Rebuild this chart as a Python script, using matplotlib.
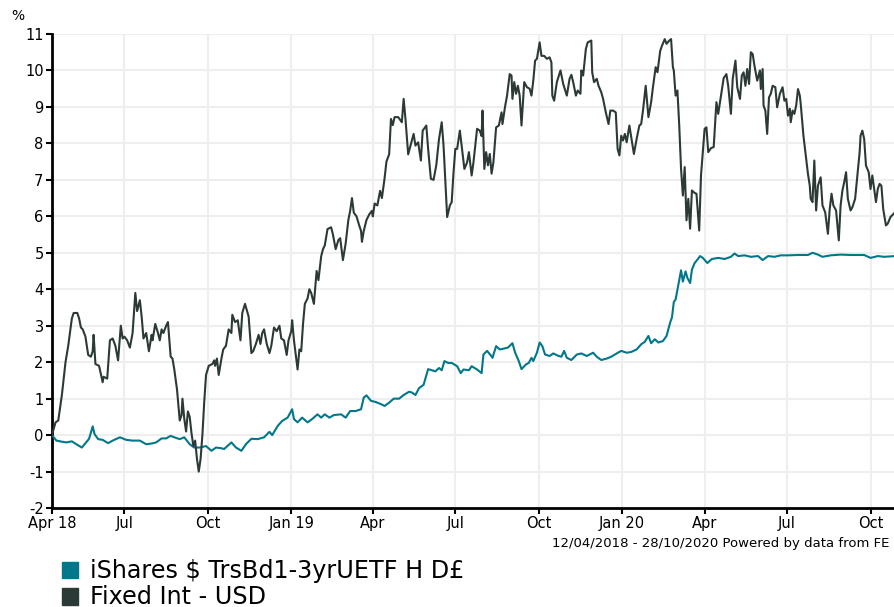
import matplotlib
matplotlib.use("Agg")
import matplotlib.pyplot as plt
import pandas as pd

START = pd.Timestamp("2018-04-12")
END = pd.Timestamp("2020-10-28")

# Fixed Int - USD (days since 12/04/2018, cumulative % return)
fixed_days = [0, 4, 7, 11, 15, 18, 22, 24, 28, 30, 32, 34, 37, 40, 43, 45, 46, 48, 52, 56,
              57, 61, 64, 67, 70, 73, 76, 78, 80, 83, 86, 89, 92, 94, 97, 99, 101, 104, 107, 110,
              111, 114, 117, 119, 121, 123, 126, 128, 131, 133, 135, 138, 141, 143, 144, 146, 148, 150, 152, 154,
              156, 158, 160, 162, 164, 166, 168, 170, 173, 177, 179, 180, 182, 184, 187, 189, 192, 195, 198, 199,
              202, 205, 208, 210, 213, 217, 220, 222, 225, 228, 230, 232, 234, 237, 240, 242, 245, 248, 251, 253,
              256, 259, 261, 264, 265, 267, 269, 271, 273, 275, 277, 279, 282, 284, 286, 289, 292, 294, 297, 299,
              301, 304, 308, 310, 313, 316, 318, 321, 324, 327, 329, 331, 333, 336, 339, 341, 342, 344, 347, 350,
              353, 354, 356, 359, 362, 364, 367, 369, 372, 374, 376, 378, 382, 386, 388, 390, 393, 396, 399, 401,
              404, 407, 409, 413, 415, 418, 421, 424, 427, 430, 432, 436, 439, 441, 443, 445, 447, 450, 452, 455,
              458, 460, 463, 465, 469, 472, 474, 475, 477, 479, 481, 483, 485, 487, 490, 493, 496, 497, 500, 502,
              505, 507, 508, 510, 512, 514, 516, 518, 521, 524, 527, 529, 531, 533, 535, 538, 540, 543, 546, 549,
              551, 552, 554, 557, 561, 564, 568, 571, 573, 575, 578, 580, 583, 584, 586, 589, 591, 595, 596, 598,
              601, 603, 606, 608, 611, 614, 616, 619, 622, 624, 626, 628, 630, 632, 634, 637, 640, 642, 645, 648,
              650, 652, 655, 658, 661, 663, 666, 668, 671, 673, 676, 678, 681, 683, 685, 686, 688, 690, 692, 694,
              696, 698, 700, 702, 704, 706, 709, 711, 714, 716, 718, 720, 722, 724, 727, 730, 733, 735, 738, 741,
              744, 746, 749, 751, 754, 756, 759, 761, 763, 765, 767, 769, 771, 773, 775, 778, 781, 782, 784, 785,
              787, 789, 791, 793, 795, 798, 800, 803, 806, 808, 810, 812, 814, 815, 817, 819, 821, 823, 825, 826,
              829, 832, 834, 836, 837, 839, 841, 843, 845, 848, 850, 853, 856, 858, 860, 862, 865, 868, 870, 872,
              874, 876, 878, 881, 883, 886, 888, 891, 892, 894, 896, 898, 901, 903, 905, 907, 909, 911, 913, 915,
              917, 920, 922, 925, 930]
fixed_vals = [0.0, 0.35, 0.4, 1.1, 2.0, 2.45, 3.2, 3.35, 3.35, 3.2, 2.95, 2.9, 2.7, 2.2, 2.15, 2.3, 2.75, 1.95, 1.9, 1.45,
              1.6, 1.55, 2.6, 2.65, 2.45, 2.05, 3.0, 2.65, 2.7, 2.6, 2.4, 2.8, 3.9, 3.4, 3.7, 3.25, 2.65, 2.8, 2.3, 2.75,
              2.6, 3.05, 2.8, 2.6, 2.9, 2.8, 3.0, 3.1, 2.15, 2.1, 1.8, 1.25, 0.4, 0.55, 1.0, 0.45, 0.1, 0.65, 0.5, 0.05,
              -0.3, -0.15, -0.65, -1.0, -0.65, 0.0, 0.9, 1.65, 1.9, 1.95, 2.05, 1.9, 2.1, 1.65, 2.1, 2.35, 2.45, 2.9, 2.8, 3.3,
              3.1, 3.15, 2.6, 3.35, 3.6, 3.25, 2.25, 2.3, 2.5, 2.75, 2.5, 2.8, 2.9, 2.5, 2.25, 2.45, 2.95, 2.85, 3.0, 2.65,
              2.6, 2.2, 2.6, 2.85, 3.15, 2.6, 2.2, 1.8, 2.35, 2.3, 3.05, 3.6, 3.75, 4.0, 3.9, 3.6, 4.5, 4.25, 4.9, 5.1,
              5.2, 5.65, 5.7, 5.5, 5.1, 5.35, 5.4, 4.8, 5.25, 5.9, 6.15, 6.5, 6.1, 6.0, 5.75, 5.6, 5.3, 5.6, 5.9, 6.05,
              6.15, 6.0, 6.35, 6.3, 6.7, 6.5, 7.05, 7.5, 7.7, 8.67, 8.5, 8.72, 8.72, 8.58, 9.22, 8.67, 7.7, 7.98, 8.26, 7.94,
              8.03, 7.53, 8.35, 8.49, 7.85, 7.03, 7.0, 7.4, 8.12, 8.58, 7.94, 5.98, 6.3, 6.39, 7.2, 7.85, 7.85, 8.35, 7.94, 7.3,
              7.48, 7.76, 7.12, 7.48, 8.4, 8.35, 8.2, 8.9, 7.3, 7.76, 7.4, 7.71, 7.17, 7.48, 8.44, 8.49, 8.85, 8.53, 9.03, 9.3,
              9.9, 9.86, 9.22, 9.68, 9.36, 9.58, 9.31, 8.49, 9.68, 9.54, 9.5, 9.31, 9.72, 10.27, 10.32, 10.77, 10.4, 10.4, 10.32, 10.36,
              10.22, 9.31, 9.17, 9.68, 10.0, 9.63, 9.31, 9.77, 9.88, 9.68, 9.31, 9.45, 9.36, 10.0, 9.86, 10.59, 10.77, 10.82, 9.95, 9.68,
              9.77, 9.58, 9.4, 9.22, 8.85, 8.53, 8.9, 8.9, 8.85, 7.85, 7.67, 8.21, 8.08, 8.26, 8.03, 8.49, 8.03, 7.71, 8.12, 8.49,
              8.53, 8.9, 9.58, 8.72, 9.13, 9.54, 10.09, 9.95, 10.54, 10.68, 10.86, 10.73, 10.82, 10.86, 10.09, 10.0, 9.31, 9.45, 8.49, 7.3,
              6.57, 7.35, 5.89, 6.48, 5.66, 6.71, 6.64, 6.62, 5.61, 7.12, 7.76, 8.4, 8.44, 7.76, 7.87, 7.9, 9.13, 8.81, 9.31, 9.79,
              9.9, 9.58, 8.81, 9.77, 10.27, 9.54, 9.22, 9.86, 9.95, 9.58, 10.04, 9.63, 10.5, 10.45, 10.13, 9.72, 10.0, 9.49, 10.04, 9.04,
              8.9, 8.26, 9.26, 9.36, 9.58, 9.54, 8.99, 9.36, 9.54, 9.17, 9.22, 8.76, 8.95, 8.58, 8.9, 8.81, 9.04, 9.49, 9.31, 9.08,
              8.21, 7.58, 7.16, 6.84, 6.48, 6.39, 7.53, 6.16, 6.84, 7.07, 6.3, 6.11, 5.52, 6.2, 6.62, 6.3, 6.16, 5.34, 6.3, 6.71,
              6.94, 7.21, 6.48, 6.16, 6.25, 6.48, 6.98, 7.76, 8.21, 8.35, 8.12, 7.39, 7.21, 6.75, 7.12, 6.75, 6.39, 6.75, 6.89, 6.84,
              6.2, 5.75, 5.8, 5.98, 6.11]

# iShares $ TrsBd1-3yrUETF H D£
ishares_days = [0, 5, 11, 16, 22, 27, 33, 36, 41, 45, 47, 51, 56, 62, 67, 75, 82, 89, 97, 104,
                110, 115, 121, 126, 131, 135, 141, 146, 152, 157, 163, 170, 176, 181, 187, 190, 198, 203, 209, 214,
                220, 227, 234, 240, 243, 249, 254, 260, 265, 267, 271, 276, 282, 287, 293, 297, 301, 306, 311, 319,
                324, 329, 335, 341, 344, 347, 352, 357, 363, 367, 372, 377, 383, 388, 394, 397, 401, 405, 410, 415,
                419, 423, 427, 430, 433, 437, 441, 447, 451, 454, 460, 463, 469, 474, 476, 480, 484, 486, 490, 494,
                498, 503, 508, 511, 515, 518, 523, 526, 529, 531, 535, 538, 541, 544, 549, 553, 559, 562, 565, 568,
                573, 579, 584, 590, 597, 601, 606, 612, 617, 623, 628, 634, 639, 645, 650, 654, 658, 661, 665, 669,
                674, 678, 682, 684, 686, 688, 691, 694, 696, 699, 701, 704, 706, 709, 712, 715, 718, 723, 728, 735,
                742, 749, 753, 757, 764, 771, 779, 784, 790, 797, 804, 812, 823, 834, 839, 845, 850, 859, 870, 881,
                896, 903, 911, 918, 930]
ishares_vals = [0.0, -0.15, -0.18, -0.2, -0.17, -0.25, -0.34, -0.25, -0.1, 0.24, 0.03, -0.11, -0.13, -0.22, -0.15, -0.06, -0.13, -0.15, -0.15, -0.25,
                -0.23, -0.2, -0.09, -0.09, -0.02, -0.06, -0.11, -0.06, -0.25, -0.34, -0.34, -0.3, -0.43, -0.34, -0.36, -0.38, -0.2, -0.34, -0.43, -0.25,
                -0.1, -0.11, -0.06, 0.09, 0.0, 0.25, 0.39, 0.48, 0.71, 0.44, 0.35, 0.48, 0.35, 0.44, 0.57, 0.48, 0.57, 0.48, 0.55, 0.57,
                0.48, 0.66, 0.66, 0.71, 1.03, 1.09, 0.94, 0.91, 0.85, 0.8, 0.89, 1.0, 1.0, 1.1, 1.19, 1.17, 1.1, 1.29, 1.38, 1.81,
                1.78, 1.75, 1.84, 1.78, 2.03, 1.98, 1.98, 1.89, 1.7, 1.8, 1.78, 1.89, 1.8, 1.7, 2.21, 2.31, 2.19, 2.12, 2.44, 2.35,
                2.37, 2.4, 2.52, 2.26, 2.03, 1.81, 1.94, 1.98, 2.12, 2.03, 2.26, 2.54, 2.44, 2.21, 2.17, 2.24, 2.17, 2.15, 2.31, 2.12,
                2.06, 2.21, 2.24, 2.17, 2.26, 2.15, 2.06, 2.1, 2.15, 2.24, 2.31, 2.26, 2.28, 2.35, 2.49, 2.56, 2.72, 2.52, 2.63, 2.54,
                2.58, 2.72, 3.09, 3.23, 3.65, 3.72, 4.12, 4.52, 4.21, 4.49, 4.31, 4.17, 4.54, 4.72, 4.81, 4.91, 4.86, 4.72, 4.83, 4.86,
                4.83, 4.89, 4.98, 4.91, 4.93, 4.89, 4.91, 4.8, 4.91, 4.89, 4.93, 4.93, 4.94, 4.94, 5.0, 4.95, 4.89, 4.93, 4.95, 4.94,
                4.94, 4.86, 4.91, 4.89, 4.91]

series_names = ["iShares $ TrsBd1-3yrUETF H D£", "Fixed Int - USD"]
series_colors = ["#00788a", "#2c3a37"]

tick_dates = ["2018-04-12", "2018-07-01", "2018-10-01", "2019-01-01", "2019-04-01", "2019-07-01",
              "2019-10-01", "2020-01-01", "2020-04-01", "2020-07-01", "2020-10-01"]
tick_labels = ["Apr 18", "Jul", "Oct", "Jan 19", "Apr", "Jul", "Oct", "Jan 20", "Apr", "Jul", "Oct"]
y_ticks = list(range(-2, 12))

plt.rcParams["font.family"] = ["DejaVu Sans"]

fig = plt.figure(figsize=(8.95, 6.07), dpi=100)
ax = fig.add_axes([0.058, 0.163, 0.942, 0.781])

fixed_x = START + pd.to_timedelta(fixed_days, unit="D")
ishares_x = START + pd.to_timedelta(ishares_days, unit="D")

ax.plot(ishares_x, ishares_vals, color=series_colors[0], lw=1.5, zorder=3)
ax.plot(fixed_x, fixed_vals, color=series_colors[1], lw=1.5, zorder=4)

ax.set_xlim(START, END)
ax.set_ylim(-2, 11)
ax.set_yticks(y_ticks)
ax.set_yticklabels([str(v) for v in y_ticks])
ax.set_xticks(pd.to_datetime(tick_dates))
ax.set_xticklabels(tick_labels)

ax.grid(True, color="#eeeeee", lw=1.5, zorder=0)
ax.set_axisbelow(True)
for side in ["top", "right"]:
    ax.spines[side].set_visible(False)
for side in ["left", "bottom"]:
    ax.spines[side].set_linewidth(2)
    ax.spines[side].set_color("black")
ax.tick_params(axis="both", direction="out", length=4, width=1.5, labelsize=10.5, colors="black", pad=2)

fig.text(0.013, 0.962, "%", fontsize=10, ha="left", va="bottom")
fig.text(0.994, 0.105, "12/04/2018 - 28/10/2020 Powered by data from FE",
         fontsize=9.5, ha="right", va="center")

# legend below the chart
for i, (name, col) in enumerate(zip(series_names, series_colors)):
    yy = 0.06 - i * 0.043
    fig.patches.append(plt.Rectangle((0.069, yy - 0.013), 0.018, 0.027, color=col,
                                     transform=fig.transFigure, figure=fig))
    fig.text(0.1, yy, name, fontsize=17.2, ha="left", va="center")

fig.savefig("out.png", dpi=100)
